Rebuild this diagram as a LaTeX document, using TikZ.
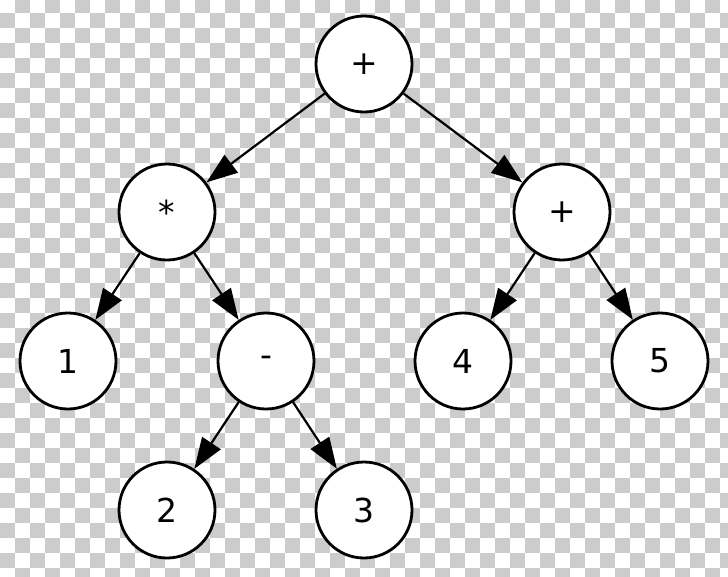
\documentclass[tikz,border=0pt]{standalone}
\usepackage{fontspec}
\setmainfont{DejaVu Sans}
\usepackage{xcolor}
\usetikzlibrary{arrows.meta}
\definecolor{clrChecker}{HTML}{CCCCCC}

\begin{document}
\begin{tikzpicture}[x=1pt, y=-1pt,
    opnode/.style={circle, draw=black, fill=white, minimum size=96pt, inner sep=0pt, line width=2.8pt, font=\fontsize{33}{40}\selectfont},
    treearrow/.style={-{Triangle[length=31pt, width=22pt]}, line width=2.2pt, black},
]
\useasboundingbox (0,0) rectangle (728,576);

% Checkerboard background
\begin{scope}
\clip (0,0) rectangle (728,576);
\fill[white] (0,0) rectangle (728,576);
\foreach \i in {0,...,48} {
  \foreach \j in {0,...,38} {
    \ifodd\numexpr\i+\j\relax
      \fill[clrChecker] (15*\i, 15*\j-2) rectangle ++(15,15);
    \fi
  }
}
\end{scope}

% Operators
\node[opnode] (root) at (364, 64) {+};
\node[opnode] (mul) at (167, 212) {*};
\node[opnode] (add) at (562, 212) {+};
\node[opnode] (minus) at (266, 361) {-};

% Operands
\node[opnode] (one) at (68, 361) {1};
\node[opnode] (four) at (463, 361) {4};
\node[opnode] (five) at (660, 361) {5};
\node[opnode] (two) at (167, 510) {2};
\node[opnode] (three) at (364, 510) {3};

% Edges
\draw[treearrow] (root) -- (mul);
\draw[treearrow] (root) -- (add);
\draw[treearrow] (mul) -- (one);
\draw[treearrow] (mul) -- (minus);
\draw[treearrow] (add) -- (four);
\draw[treearrow] (add) -- (five);
\draw[treearrow] (minus) -- (two);
\draw[treearrow] (minus) -- (three);

\end{tikzpicture}
\end{document}
